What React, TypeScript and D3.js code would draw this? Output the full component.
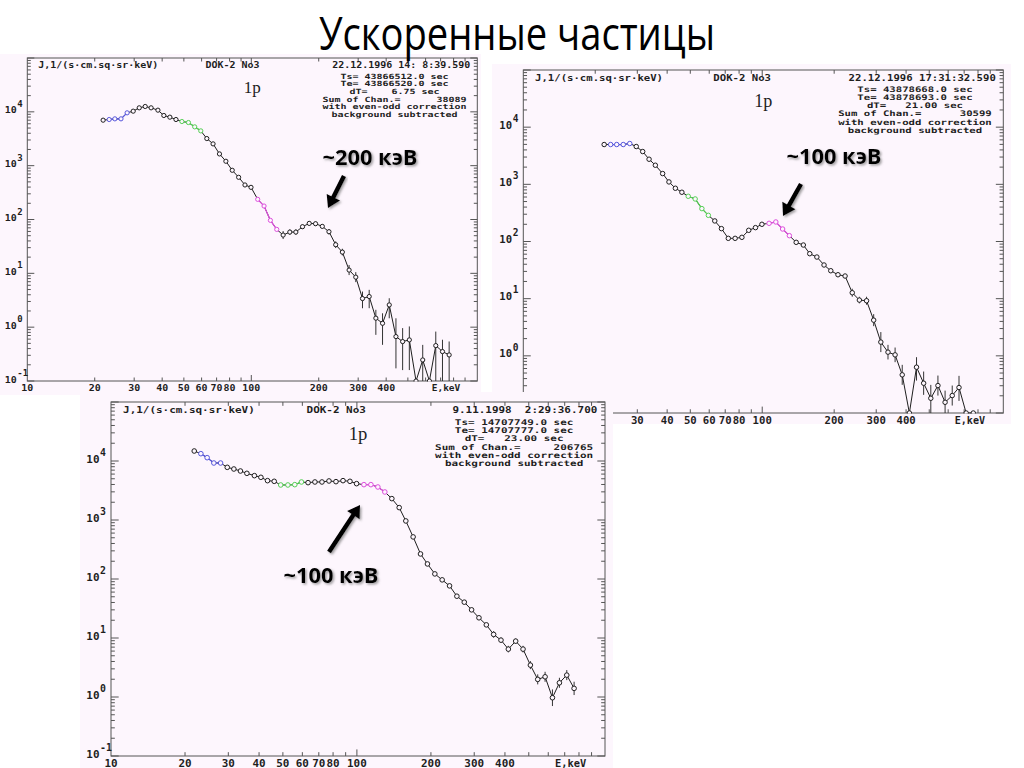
import React from 'react';
import * as d3 from 'd3';

// Channel energies of the DOK-2 spectrometer (keV), shared by all three spectra
const energyKeV = [21.8, 23.2, 24.6, 26.2, 27.9, 29.7, 31.6, 33.6, 35.7, 38.3, 40.7, 43.3, 46.1, 49.0, 52.4, 55.9, 59.5, 63.3, 67.5, 72.1, 77.0, 82.2, 87.8, 93.7, 99.7, 106.8, 114.0, 121.7, 129.9, 138.7, 148.6, 158.1, 169.3, 181.4, 193.6, 207.5, 222.2, 238.1, 255.0, 273.3, 292.7, 313.6, 336.0, 359.8, 385.4, 412.9, 442.3, 473.8, 507.6, 543.7, 582.5, 624.0, 666.1, 713.6, 764.3];

// Panel 1: 22.12.1996 14:08
const panel1Flux = [7000, 7200, 7410, 7410, 9580, 10290, 11870, 12570, 11870, 10740, 8550, 7960, 7200, 6610, 6330, 5260, 4430, 3190, 2540, 1653, 1208, 821, 608, 438, 396, 237, 178, 96.4, 65.5, 51.4, 58.4, 58.4, 73.5, 84.7, 83.5, 74.5, 59.3, 34.0, 24.8, 11.5, 8.5, 3.40, 3.71, 1.47, 1.18, 2.59, 0.668, 0.540, 0.580, 0.1, 0.246, 0.1, 0.455, 0.352, 0.305];
// error bars: [channel index, up (decades), down (decades)]
const panel1ErrBars = [[29, 0.074, 0.074], [30, 0.05, 0.05], [31, 0.05, 0.05], [32, 0.04, 0.04], [33, 0.04, 0.04], [34, 0.04, 0.04], [35, 0.04, 0.04], [36, 0.05, 0.05], [37, 0.062, 0.062], [38, 0.062, 0.062], [39, 0.093, 0.093], [40, 0.093, 0.093], [41, 0.13, 0.18], [42, 0.124, 0.217], [43, 0.155, 0.31], [44, 0.186, 0.40], [45, 0.124, 0.248], [46, 0.34, 0.59], [47, 0.25, 0.53], [48, 0.25, 0.56], [50, 0.28, 1], [52, 0.26, 1], [53, 0.22, 1], [54, 0.25, 1]];

// Panel 2: 22.12.1996 17:31
const panel2Flux = [4970, 4970, 4970, 4970, 5175, 4585, 3746, 2750, 2159, 1543, 1102, 854, 727, 618, 555, 376, 287, 229, 168, 113.6, 113.6, 118.3, 157, 174.8, 200, 208, 219.6, 165.5, 126.5, 96.7, 86.8, 61.2, 53.5, 38.8, 30.8, 26.2, 24.9, 12.7, 9.45, 9.2, 4.21, 1.74, 1.16, 1.04, 0.465, 0.1, 0.633, 0.332, 0.181, 0.302, 0.154, 0.202, 0.279, 0.1, 0.1];
const panel2ErrBars = [[29, 0.035, 0.035], [30, 0.035, 0.035], [31, 0.035, 0.035], [32, 0.035, 0.035], [33, 0.035, 0.035], [34, 0.035, 0.035], [35, 0.035, 0.035], [36, 0.035, 0.035], [37, 0.07, 0.07], [38, 0.058, 0.058], [39, 0.07, 0.07], [40, 0.105, 0.105], [41, 0.175, 0.175], [42, 0.128, 0.128], [43, 0.128, 0.128], [44, 0.175, 0.175], [46, 0.175, 0.234], [47, 0.204, 0.204], [48, 0.234, 0.263], [49, 0.175, 0.175], [50, 0.204, 0.204], [51, 0.175, 0.175], [52, 0.204, 0.234]];

// Panel 3: 9.11.1998 2:29
const panel3Flux = [14770, 13310, 11390, 9250, 9250, 7810, 7320, 6770, 6180, 5646, 5290, 4645, 4525, 3923, 3923, 3974, 4410, 4296, 4410, 4410, 4586, 4467, 4645, 4525, 4132, 3974, 3974, 3628, 2985, 2303, 1622, 964, 517, 266, 180, 122, 96.7, 76.5, 51.1, 40.5, 30.0, 22.0, 16.7, 11.5, 9.2, 6.48, 8.85, 6.48, 3.47, 1.99, 2.20, 0.972, 1.74, 2.35, 1.40];
const panel3ErrBars = [[37, 0.028, 0.028], [38, 0.028, 0.028], [39, 0.028, 0.028], [40, 0.028, 0.028], [41, 0.028, 0.028], [42, 0.028, 0.028], [43, 0.056, 0.056], [44, 0.045, 0.045], [45, 0.056, 0.056], [46, 0.045, 0.045], [47, 0.056, 0.056], [48, 0.068, 0.068], [49, 0.085, 0.085], [50, 0.085, 0.085], [51, 0.141, 0.141], [52, 0.085, 0.085], [53, 0.085, 0.085], [54, 0.113, 0.113]];

// Axis ticks & labels
const xTickLabels = [10, 20, 30, 40, 50, 60, 70, 80, 100, 200, 300, 400];
const xTicks = [20, 30, 40, 50, 60, 70, 80, 90, 100, 200, 300, 400, 500, 600, 700, 800, 900];
const xUnitLabel = 'E,keV';
const xUnitAt = 740;
const yDecadeExponents = [-1, 0, 1, 2, 3, 4];
const yMinorMultipliers = [2, 3, 4, 5, 6, 7, 8, 9];

// Channel groups drawn in colour
const blueChannels = [1, 2, 3, 4];
const greenChannels = [13, 14, 15, 16];
const magentaChannels = [25, 26, 27, 28];

const unitsText = 'J,1/(s·cm.sq·sr·keV)';
const instrumentText = 'DOK-2 No3';
const particleText = '1p';
const slideTitle = 'Ускоренные частицы';

const panel1Info = ['Ts= 43866512.0 sec', 'Te= 43866520.0 sec', 'dT=    6.75 sec', 'Sum of Chan.=      38089', 'with even-odd correction', 'background subtracted'];
const panel2Info = ['Ts= 43878668.0 sec', 'Te= 43878693.0 sec', 'dT=   21.00 sec', 'Sum of Chan.=      30599', 'with even-odd correction', 'background subtracted'];
const panel3Info = ['Ts= 14707749.0 sec', 'Te= 14707777.0 sec', 'dT=   23.00 sec', 'Sum of Chan.=     206765', 'with even-odd correction', 'background subtracted'];

const panels = [
  {
    frame: [27.3, 58, 450, 323], box: [0, 54, 481, 395], coveredBy: null,
    flux: panel1Flux, errBars: panel1ErrBars, date: '22.12.1996 14: 8:39.590', info: panel1Info,
    note: { text: '~200 кэВ', tx: 370, ty: 165, from: [344, 176], to: [328, 208] },
  },
  {
    frame: [523.3, 70, 480, 343], box: [492, 64, 1011, 424], coveredBy: [80, 392, 613, 768],
    flux: panel2Flux, errBars: panel2ErrBars, date: '22.12.1996 17:31:32.590', info: panel2Info,
    note: { text: '~100 кэВ', tx: 834, ty: 164, from: [801, 184], to: [783, 216] },
  },
  {
    frame: [111, 402, 494, 354], box: [80, 392, 613, 768], coveredBy: null,
    flux: panel3Flux, errBars: panel3ErrBars, date: '9.11.1998  2:29:36.700', info: panel3Info,
    note: { text: '~100 кэВ', tx: 331, ty: 583, from: [329, 552], to: [360, 505] },
  },
];

const BG = '#fdf6fd';
const INK = '#1e1e1e';
const FRAME = '#555';
const MONO = "'DejaVu Sans Mono', monospace";

function Mono({ x, y, text, cw, fs, anchor = 'start' }: any) {
  return (
    <text x={x} y={y} fontFamily={MONO} fontWeight="bold" fontSize={fs} textAnchor={anchor}
      textLength={text.length * cw} lengthAdjust="spacingAndGlyphs" fill={INK}
      style={{ whiteSpace: 'pre' }}>{text}</text>
  );
}

function Arrow({ from, to }: any) {
  const [x1, y1] = from;
  const [x2, y2] = to;
  const dx = x2 - x1, dy = y2 - y1;
  const L = Math.hypot(dx, dy);
  const ux = dx / L, uy = dy / L;
  const hl = 12, hw = 7.5;
  const bx = x2 - ux * hl, by = y2 - uy * hl;
  const px = -uy, py = ux;
  return (
    <g>
      <line x1={x1} y1={y1} x2={bx + ux * 2} y2={by + uy * 2} stroke="#000" strokeWidth={4.5} />
      <polygon points={`${x2},${y2} ${bx + px * hw},${by + py * hw} ${bx - px * hw},${by - py * hw}`} fill="#000" />
    </g>
  );
}

function Panel({ cfg, idx }: any) {
  const [fx, fy, fw, fh] = cfg.frame;
  const s = fw / 450;
  const xs = d3.scaleLog().domain([10, 1000]).range([fx, fx + fw - 2 * s]);
  const ys = d3.scaleLog().domain([0.1, 1e5]).range([fy + fh, fy]);
  const cw = 6 * s, fs = 9 * s, topFs = 8 * s, hfs = 7.2 * s;
  const clipId = `plotclip${idx}`;
  const flux: number[] = cfg.flux;
  const px = (i: number) => xs(energyKeV[i]);
  const py = (v: number) => ys(Math.max(v, 0.1));
  const line = d3.line<number>().x((i) => px(i)).y((i) => py(flux[i]));
  const allIdx = flux.map((_, i) => i);
  const groupColor = (i: number) =>
    blueChannels.includes(i) ? '#5656dc' : greenChannels.includes(i) ? '#55d055' : magentaChannels.includes(i) ? '#dd4edd' : INK;
  const groups = [[blueChannels, '#5656dc'], [greenChannels, '#55d055'], [magentaChannels, '#dd4edd']] as any[];
  const cov = cfg.coveredBy;
  const visible = (x: number, y: number) => !cov || !(x > cov[0] && x < cov[2] && y > cov[1] && y < cov[3]);

  const right = fx + fw, bottom = fy + fh;
  const leftTicks: any[] = [];
  yDecadeExponents.forEach((k) => {
    leftTicks.push({ v: Math.pow(10, k), major: true });
    yMinorMultipliers.forEach((m) => leftTicks.push({ v: m * Math.pow(10, k), major: false }));
  });
  leftTicks.push({ v: 1e5, major: true });

  const infoCx = right - 0.184 * fw;
  const [bx0, by0, bx1, by1] = cfg.box;

  return (
    <g>
      <rect x={bx0} y={by0} width={bx1 - bx0} height={by1 - by0} fill={BG} />
      <defs>
        <clipPath id={clipId}><rect x={fx} y={fy} width={fw} height={fh + 0.5} /></clipPath>
      </defs>
      <rect x={fx} y={fy} width={fw} height={fh} fill="none" stroke={FRAME} strokeWidth={1} />
      {leftTicks.map((t, i) => {
        const y = ys(t.v);
        const len = (t.major ? 7 : 3.5) * s;
        return (
          <g key={`yt${i}`} stroke={FRAME} strokeWidth={1}>
            <line x1={fx} x2={fx + len} y1={y} y2={y} />
            <line x1={right} x2={right - len} y1={y} y2={y} />
          </g>
        );
      })}
      {xTicks.map((v, i) => {
        const x = xs(v);
        const len = (v === 100 ? 6 : 3.5) * s;
        return (
          <g key={`xt${i}`} stroke={FRAME} strokeWidth={1}>
            <line x1={x} x2={x} y1={bottom} y2={bottom - len} />
            <line x1={x} x2={x} y1={fy} y2={fy + len} />
          </g>
        );
      })}
      {yDecadeExponents.map((k) => {
        const y = ys(Math.pow(10, k));
        if (!visible(fx - 15 * s, y)) return null;
        return (
          <g key={`yl${k}`}>
            <Mono x={fx - 10.5 * s} y={y + 1.5 * s} text="10" cw={cw} fs={fs} anchor="end" />
            <Mono x={fx - 10 * s} y={y - 5 * s} text={String(k)} cw={cw * 0.9} fs={fs} />
          </g>
        );
      })}
      {xTickLabels.map((v) => (visible(xs(v), bottom + 6 * s) ?
        <Mono key={`xl${v}`} x={xs(v)} y={bottom + 10 * s} text={String(v)} cw={cw} fs={fs} anchor="middle" /> : null
      ))}
      <Mono x={xs(xUnitAt)} y={bottom + 10 * s} text={xUnitLabel} cw={cw * 0.95} fs={fs} anchor="middle" />
      <Mono x={fx + 11 * s} y={fy + 10 * s} text={unitsText} cw={cw} fs={topFs} />
      <Mono x={fx + 0.396 * fw} y={fy + 10 * s} text={instrumentText} cw={cw} fs={topFs} />
      <Mono x={right - 7 * s} y={fy + 10 * s} text={cfg.date} cw={cw} fs={topFs} anchor="end" />
      {cfg.info.map((t: string, i: number) => (
        <Mono key={`inf${i}`} x={infoCx} y={fy + (20.7 + 7.6 * i) * s} text={t} cw={cw} fs={hfs} anchor="middle" />
      ))}
      <text x={fx + fw / 2} y={fy + 35 * s} fontFamily="'Liberation Serif', serif" fontSize={17 * s}
        textAnchor="middle" fill={INK}>{particleText}</text>
      <g clipPath={`url(#${clipId})`}>
        {cfg.errBars.map((e: number[], j: number) => {
          const [i, up, dn] = e;
          const x = px(i);
          const v = flux[i];
          return <line key={`eb${j}`} x1={x} x2={x} y1={py(v * Math.pow(10, up))} y2={py(v / Math.pow(10, dn))}
            stroke="#333" strokeWidth={1} />;
        })}
        <path d={line(allIdx) || ''} fill="none" stroke={INK} strokeWidth={1} />
        {groups.map(([g, c]: any, j: number) => (
          <path key={`grp${j}`} d={line(g) || ''} fill="none" stroke={c} strokeWidth={1.2} />
        ))}
        {allIdx.map((i) => (
          <circle key={`pt${i}`} cx={px(i)} cy={py(flux[i])} r={2.1 * s} fill={BG}
            stroke={groupColor(i)} strokeWidth={1} />
        ))}
      </g>
      <text x={cfg.note.tx} y={cfg.note.ty} fontFamily="'Open Sans', sans-serif" fontWeight="bold" fontSize={22}
        textAnchor="middle" textLength={95} lengthAdjust="spacingAndGlyphs" fill="#000"
        filter="url(#softShadow)">{cfg.note.text}</text>
      <g filter="url(#softShadow)"><Arrow from={cfg.note.from} to={cfg.note.to} /></g>
    </g>
  );
}

export default function App() {
  return (
    <svg width={1024} height={768} viewBox="0 0 1024 768"
      style={{ position: 'absolute', left: 0, top: 0, display: 'block', background: '#fff' }}>
      <defs>
        <filter id="softShadow" x="-20%" y="-20%" width="140%" height="140%">
          <feDropShadow dx={1.5} dy={1.5} stdDeviation={1.3} floodColor="#777" floodOpacity={0.7} />
        </filter>
      </defs>
      <rect x={0} y={0} width={1024} height={768} fill="#fff" />
      {panels.map((p, i) => <Panel key={i} cfg={p} idx={i} />)}
      <text x={517} y={49.5} fontFamily="'Open Sans', sans-serif" fontSize={45} textAnchor="middle"
        textLength={396} lengthAdjust="spacingAndGlyphs" fill="#000">{slideTitle}</text>
    </svg>
  );
}
